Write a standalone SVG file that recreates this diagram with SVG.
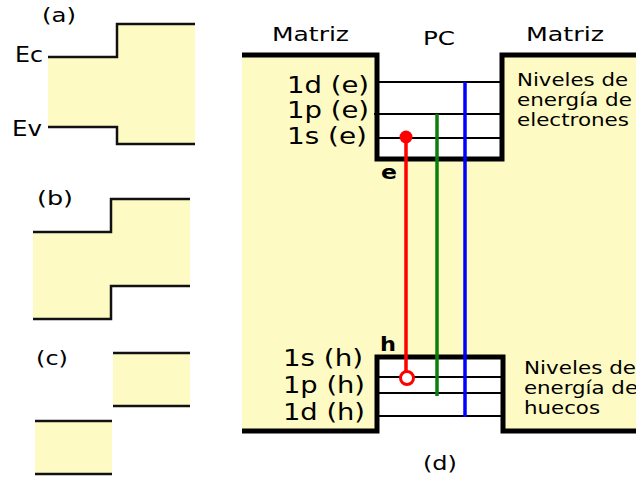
<svg xmlns="http://www.w3.org/2000/svg" width="636" height="480" viewBox="0 0 636 480">
<style>
.fill{fill:#fdfbc3;stroke:none}
.edge{fill:none;stroke:#111;stroke-width:2.5}
.wall{fill:none;stroke:#000;stroke-width:5}
.lvl{stroke:#000;stroke-width:2}
.t{font-family:"DejaVu Sans",Verdana,sans-serif;fill:#000}
.tb{font-family:"DejaVu Sans",Verdana,sans-serif;font-weight:bold;fill:#000}
.tr{stroke-width:3.5;fill:none}
</style>
<rect width="636" height="480" fill="#fff"/>
<g id="panel-a">
<path class="fill" d="M48,57H117V24H195V144H117V127H48Z"/>
<path class="edge" d="M48,57H117V24H195M48,127H117V144H195"/>
<text class="t" x="42" y="22" font-size="20" textLength="34" lengthAdjust="spacingAndGlyphs">(a)</text>
<text class="t" x="15" y="62" font-size="21" textLength="28" lengthAdjust="spacingAndGlyphs">Ec</text>
<text class="t" x="12" y="136" font-size="21" textLength="30" lengthAdjust="spacingAndGlyphs">Ev</text>
</g>
<g id="panel-b">
<path class="fill" d="M33,232H111V199H190V286H111V319H33Z"/>
<path class="edge" d="M33,232H111V199H190M190,286H111V319H33"/>
<text class="t" x="37" y="205" font-size="20" textLength="36" lengthAdjust="spacingAndGlyphs">(b)</text>
</g>
<g id="panel-c">
<rect class="fill" x="113" y="353" width="77" height="53"/>
<rect class="fill" x="35" y="421" width="77" height="53"/>
<path class="edge" d="M113,353H190M113,406H190M35,421H112M35,474H112"/>
<text class="t" x="36" y="365" font-size="20" textLength="32" lengthAdjust="spacingAndGlyphs">(c)</text>
</g>
<g id="panel-d">
<path class="fill" d="M242,55H377V159H502V55H636V431H503V357H377V431H242Z"/>
<path class="wall" d="M242,55H377V159H502V55H636"/>
<path class="wall" d="M242,431H377V357H503V431H636"/>
<g id="electron-levels">
<line class="lvl" x1="377" y1="82" x2="502" y2="82"/>
<line class="lvl" x1="374" y1="114" x2="502" y2="114"/>
<line class="lvl" x1="377" y1="138" x2="502" y2="138"/>
</g>
<g id="hole-levels">
<line class="lvl" x1="377" y1="377" x2="505" y2="377"/>
<line class="lvl" x1="377" y1="393" x2="505" y2="393"/>
<line class="lvl" x1="377" y1="416" x2="505" y2="416"/>
</g>
<text class="t" x="272" y="41" font-size="20" textLength="77" lengthAdjust="spacingAndGlyphs">Matriz</text>
<text class="t" x="423" y="45" font-size="20" textLength="32" lengthAdjust="spacingAndGlyphs">PC</text>
<text class="t" x="526" y="41" font-size="20" textLength="78" lengthAdjust="spacingAndGlyphs">Matriz</text>
<text class="t" x="287" y="93" font-size="23" textLength="82" lengthAdjust="spacingAndGlyphs">1d (e)</text>
<text class="t" x="287" y="118" font-size="23" textLength="82" lengthAdjust="spacingAndGlyphs">1p (e)</text>
<text class="t" x="287" y="144" font-size="23" textLength="80" lengthAdjust="spacingAndGlyphs">1s (e)</text>
<text class="t" x="517" y="86" font-size="17.5" textLength="111" lengthAdjust="spacingAndGlyphs">Niveles de</text>
<text class="t" x="517" y="106" font-size="17.5" textLength="115" lengthAdjust="spacingAndGlyphs">energía de</text>
<text class="t" x="517" y="126" font-size="17.5" textLength="112" lengthAdjust="spacingAndGlyphs">electrones</text>
<text class="tb" x="381" y="179" font-size="19" textLength="16" lengthAdjust="spacingAndGlyphs">e</text>
<text class="tb" x="380" y="351" font-size="19" textLength="16" lengthAdjust="spacingAndGlyphs">h</text>
<text class="t" x="283" y="366" font-size="23" textLength="80" lengthAdjust="spacingAndGlyphs">1s (h)</text>
<text class="t" x="283" y="393" font-size="23" textLength="82" lengthAdjust="spacingAndGlyphs">1p (h)</text>
<text class="t" x="283" y="420" font-size="23" textLength="82" lengthAdjust="spacingAndGlyphs">1d (h)</text>
<text class="t" x="524" y="374" font-size="17.5" textLength="112" lengthAdjust="spacingAndGlyphs">Niveles de</text>
<text class="t" x="524" y="394" font-size="17.5" textLength="114" lengthAdjust="spacingAndGlyphs">energía de</text>
<text class="t" x="524" y="414" font-size="17.5" textLength="76" lengthAdjust="spacingAndGlyphs">huecos</text>
<text class="t" x="423" y="470" font-size="20" textLength="34" lengthAdjust="spacingAndGlyphs">(d)</text>
</g>
<g id="connectors">
<line class="tr" x1="406" y1="137" x2="406" y2="371" stroke="#ff0000"/>
<line class="tr" x1="437" y1="114" x2="437" y2="396" stroke="#0a800a"/>
<line class="tr" x1="465" y1="82" x2="465" y2="417" stroke="#0000ff"/>
<circle cx="406" cy="137" r="6.5" fill="#ff0000"/>
<circle cx="407" cy="378" r="6.5" fill="#fff" stroke="#ff0000" stroke-width="3"/>
</g>
</svg>
